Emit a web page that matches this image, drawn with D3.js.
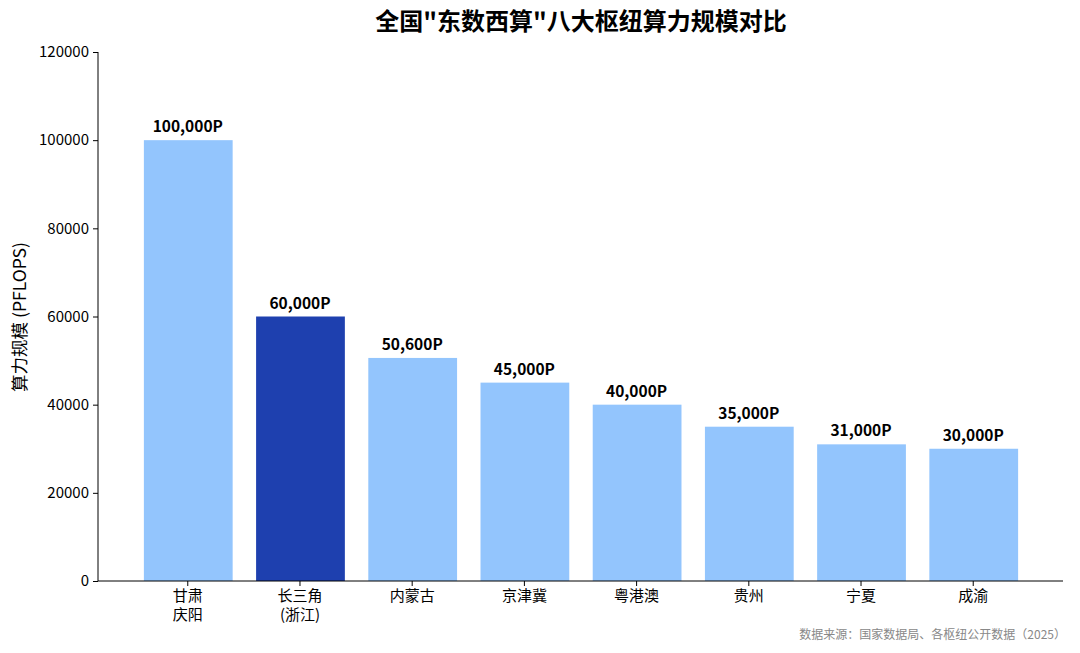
<!DOCTYPE html>
<html>
<head>
<meta charset="utf-8">
<script src="https://cdn.jsdelivr.net/npm/d3@7"></script>
<style>
  body { margin: 0; background: #fff; }
  svg { font-family: "Noto Sans CJK SC", "Noto Sans", sans-serif; }
</style>
</head>
<body>
<svg class="chart"></svg>
<script>
const hubs = ['甘肃\n庆阳', '长三角\n(浙江)', '内蒙古', '京津冀', '粤港澳', '贵州', '宁夏', '成渝'];
const power = [100000, 60000, 50600, 45000, 40000, 35000, 31000, 30000];
const valueLabels = ['100,000P', '60,000P', '50,600P', '45,000P', '40,000P', '35,000P', '31,000P', '30,000P'];
const highlight = '长三角\n(浙江)';
const yTicks = [0, 20000, 40000, 60000, 80000, 100000, 120000];

const width = 1080;
const height = 653;
const margin = {top: 52, right: 17, bottom: 72, left: 98};
const innerW = width - margin.left - margin.right;
const innerH = height - margin.top - margin.bottom;

const chart = d3.select('.chart')
  .attr('width', width)
  .attr('height', height);

const g = chart.append('g').attr('transform', 'translate(' + margin.left + ',' + margin.top + ')');

const x = d3.scaleBand()
  .domain(hubs)
  .range([0, innerW])
  .paddingInner(0.2)
  .paddingOuter(0.4);

const y = d3.scaleLinear()
  .domain([0, 120000])
  .range([innerH, 0]);

const data = hubs.map((h, i) => ({hub: h, value: power[i], label: valueLabels[i]}));

// bars
g.selectAll('.bar')
  .data(data)
  .enter().append('rect')
  .attr('class', 'bar')
  .attr('x', d => x(d.hub) + 1)
  .attr('width', x.bandwidth() - 1)
  .attr('y', d => y(d.value))
  .attr('height', d => innerH - y(d.value))
  .attr('fill', d => d.hub === highlight ? '#1E40AF' : '#93C5FD');

// value labels
g.selectAll('.val')
  .data(data)
  .enter().append('text')
  .attr('x', d => x(d.hub) + x.bandwidth() / 2)
  .attr('y', d => y(d.value) - 8)
  .attr('text-anchor', 'middle')
  .attr('font-size', 15.5)
  .attr('font-weight', 'bold')
  .attr('fill', '#000')
  .text(d => d.label);

// y axis
const yAxis = g.append('g')
  .call(d3.axisLeft(y).tickValues(yTicks).tickFormat(d3.format('d')).tickSize(5).tickPadding(4));
yAxis.selectAll('text').attr('font-size', 15).attr('fill', '#000').attr('font-family', '"Noto Sans CJK SC", sans-serif');
yAxis.select('.domain').attr('stroke', '#000').attr('d', 'M0,' + innerH + 'V0');
yAxis.selectAll('.tick line').attr('stroke', '#000');

// x axis
const xAxis = g.append('g')
  .attr('transform', 'translate(0,' + innerH + ')')
  .call(d3.axisBottom(x).tickSize(5).tickPadding(4));
xAxis.select('.domain').attr('stroke', '#000').attr('d', 'M0,0H' + innerW);
xAxis.selectAll('.tick line').attr('stroke', '#000');
xAxis.selectAll('.tick text').each(function(d) {
  const t = d3.select(this);
  const lines = d.split('\n');
  t.text(null)
    .attr('font-size', 15)
    .attr('fill', '#000')
    .attr('font-family', '"Noto Sans CJK SC", sans-serif');
  lines.forEach((l, i) => {
    t.append('tspan').attr('x', 0).attr('dy', i === 0 ? '0.71em' : '1.3em').text(l);
  });
});

// y label
chart.append('text')
  .attr('transform', 'translate(26,' + (margin.top + 265) + ') rotate(-90)')
  .attr('text-anchor', 'middle')
  .attr('font-size', 17.5)
  .attr('fill', '#000')
  .text('算力规模 (PFLOPS)');

// title
chart.append('text')
  .attr('x', 581)
  .attr('y', 30)
  .attr('text-anchor', 'middle')
  .attr('font-size', 24)
  .attr('font-weight', 'bold')
  .attr('fill', '#000')
  .text('全国"东数西算"八大枢纽算力规模对比');

// source note
chart.append('text')
  .attr('x', 1066)
  .attr('y', 639)
  .attr('text-anchor', 'end')
  .attr('font-size', 12)
  .attr('fill', '#888')
  .text('数据来源：国家数据局、各枢纽公开数据（2025）');
</script>
</body>
</html>
